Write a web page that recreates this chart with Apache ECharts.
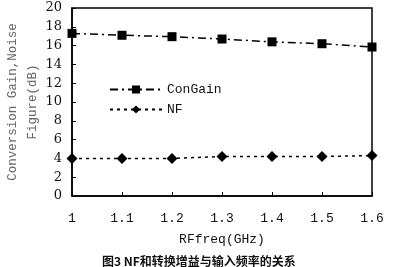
<!DOCTYPE html>
<html><head><meta charset="utf-8">
<script src="https://cdn.jsdelivr.net/npm/echarts@6/dist/echarts.min.js"></script>
<style>html,body{margin:0;padding:0;background:#fff}#c{width:393px;height:267px}</style>
</head><body><div id="c"></div>
<script>
const categories = ['1', '1.1', '1.2', '1.3', '1.4', '1.5', '1.6'];
const conGain = [17.3, 17.1, 16.95, 16.7, 16.4, 16.2, 15.85];
const nf = [4.0, 4.0, 4.0, 4.2, 4.2, 4.2, 4.3];
const yTicks = [0, 2, 4, 6, 8, 10, 12, 14, 16, 18, 20];
const yName = 'Conversion Gain,Noise\nFigure(dB)';

const chart = echarts.init(document.getElementById('c'));
chart.setOption({
  animation: false,
  backgroundColor: '#fff',
  title: {
    text: '图3 NF和转换增益与输入频率的关系',
    left: 97, top: 250,
    textStyle: { fontFamily: 'Noto Sans CJK SC', fontSize: 12, fontWeight: 'bold', color: '#111' }
  },
  graphic: [{
    type: 'text', x: 23, y: 102, rotation: Math.PI / 2,
    style: { text: yName, fontFamily: 'Liberation Mono', fontSize: 12.5, fill: '#666',
      lineHeight: 20, align: 'center', verticalAlign: 'middle' }
  }],
  grid: { left: 72, right: 21, top: 8, bottom: 71, show: true, borderColor: '#000', borderWidth: 1.5,
    backgroundColor: 'transparent', containLabel: false, outerBoundsMode: 'none' },
  legend: {
    orient: 'vertical', left: 104, top: 78, itemGap: 7, itemWidth: 52, itemHeight: 10,
    data: ['ConGain', 'NF'],
    textStyle: { fontFamily: 'Liberation Mono', fontSize: 13, color: '#111' }
  },
  xAxis: {
    type: 'category', data: categories, boundaryGap: false,
    name: 'RFfreq(GHz)', nameLocation: 'middle', nameGap: 37,
    nameTextStyle: { fontFamily: 'Liberation Mono', fontSize: 13, color: '#111' },
    axisLine: { lineStyle: { color: '#000', width: 1.5 } },
    axisTick: { inside: true, length: 4, lineStyle: { color: '#000' } },
    axisLabel: { fontFamily: 'Liberation Mono', fontSize: 13, color: '#111', margin: 16 },
    splitLine: { show: false }
  },
  yAxis: {
    type: 'value', min: 0, max: 20, interval: 2,
    axisLine: { show: true, lineStyle: { color: '#000', width: 1.5 } },
    axisTick: { show: true, inside: true, length: 4, lineStyle: { color: '#000' } },
    axisLabel: { fontFamily: 'DejaVu Serif', fontSize: 13, color: '#111', margin: 10,
      formatter: v => yTicks.includes(v) ? String(v) : '' },
    splitLine: { show: false }
  },
  series: [
    { name: 'ConGain', type: 'line', data: conGain, symbol: 'rect', symbolSize: 9,
      itemStyle: { color: '#000' }, lineStyle: { color: '#000', width: 1.5, type: [8, 4, 2, 4] } },
    { name: 'NF', type: 'line', data: nf, symbol: 'diamond', symbolSize: 11,
      itemStyle: { color: '#000' }, lineStyle: { color: '#000', width: 1.5, type: [3, 4] } }
  ]
});
</script></body></html>
